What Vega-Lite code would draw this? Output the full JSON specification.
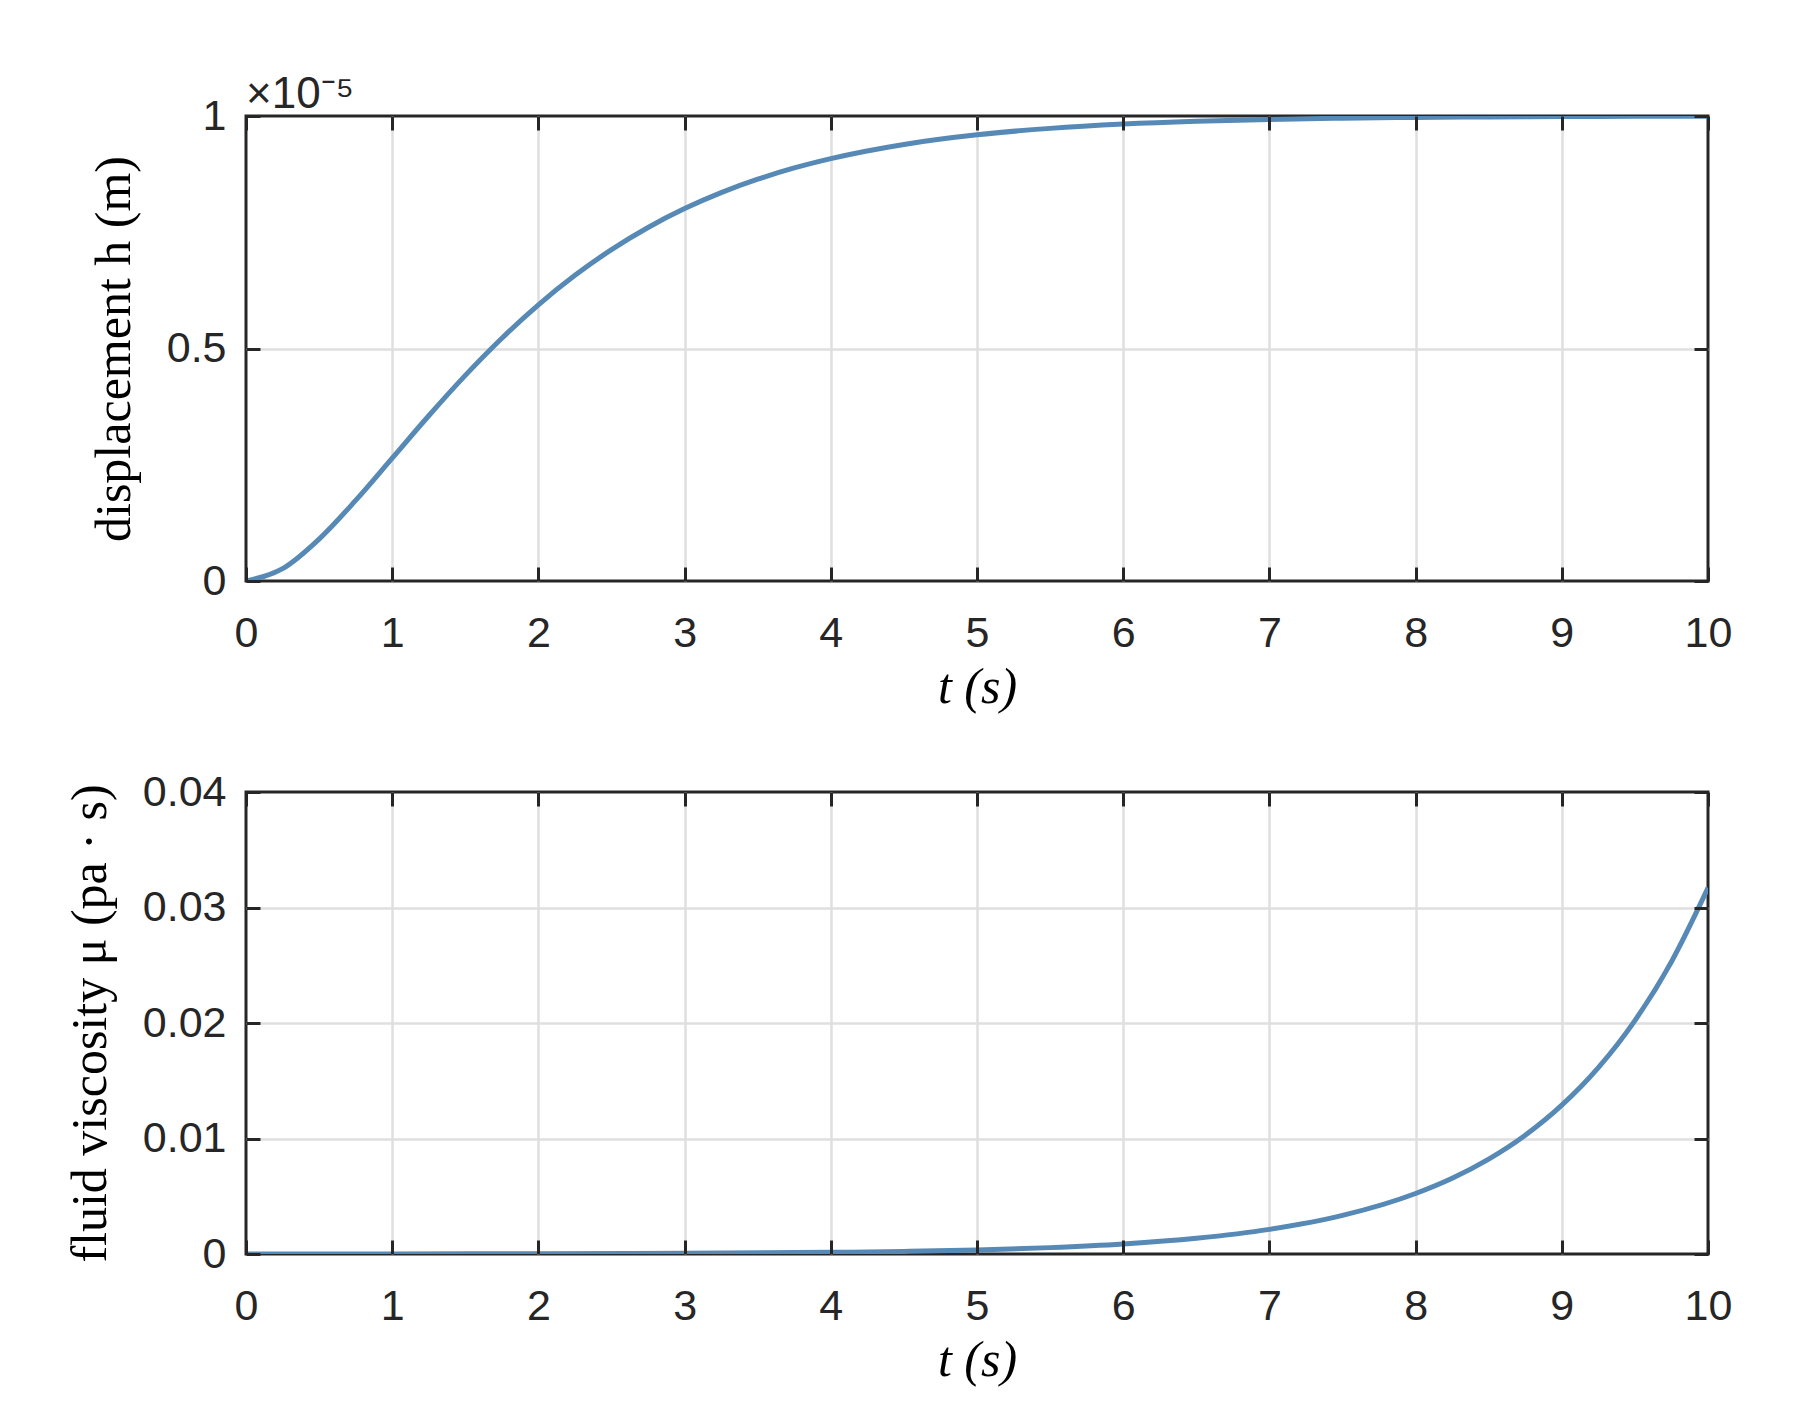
{
  "$schema": "https://vega.github.io/schema/vega-lite/v6.json",
  "background": "white",
  "padding": {"left": 63, "top": 71, "right": 90, "bottom": 20},
  "spacing": 55,
  "datasets": {
    "disp": [
      {"t": 0, "h": 0}, {"t": 0.25, "h": 0.0265}, {"t": 0.5, "h": 0.0902}, {"t": 0.75, "h": 0.1733},
      {"t": 1, "h": 0.2642}, {"t": 1.25, "h": 0.3554}, {"t": 1.5, "h": 0.4422}, {"t": 1.75, "h": 0.5221},
      {"t": 2, "h": 0.594}, {"t": 2.25, "h": 0.6574}, {"t": 2.5, "h": 0.7127}, {"t": 2.75, "h": 0.7603},
      {"t": 3, "h": 0.8009}, {"t": 3.25, "h": 0.8352}, {"t": 3.5, "h": 0.8641}, {"t": 3.75, "h": 0.8883},
      {"t": 4, "h": 0.9084}, {"t": 4.5, "h": 0.9389}, {"t": 5, "h": 0.9596}, {"t": 5.5, "h": 0.9734},
      {"t": 6, "h": 0.9826}, {"t": 6.5, "h": 0.9887}, {"t": 7, "h": 0.9927}, {"t": 7.5, "h": 0.9953},
      {"t": 8, "h": 0.997}, {"t": 8.5, "h": 0.9981}, {"t": 9, "h": 0.9988}, {"t": 9.5, "h": 0.9992},
      {"t": 10, "h": 0.9995}
    ],
    "visc": [
      {"t": 0, "mu": 0.0000039}, {"t": 1, "mu": 0.0000096}, {"t": 2, "mu": 0.0000236}, {"t": 3, "mu": 0.000058},
      {"t": 4, "mu": 0.000143}, {"t": 4.5, "mu": 0.000224}, {"t": 5, "mu": 0.000352}, {"t": 5.5, "mu": 0.000552},
      {"t": 6, "mu": 0.000866}, {"t": 6.5, "mu": 0.00136}, {"t": 7, "mu": 0.00213}, {"t": 7.5, "mu": 0.00334},
      {"t": 8, "mu": 0.00524}, {"t": 8.25, "mu": 0.00656}, {"t": 8.5, "mu": 0.00822}, {"t": 8.75, "mu": 0.01029},
      {"t": 9, "mu": 0.01289}, {"t": 9.25, "mu": 0.01614}, {"t": 9.5, "mu": 0.02021}, {"t": 9.75, "mu": 0.02531},
      {"t": 10, "mu": 0.0317}
    ]
  },
  "vconcat": [
    {
      "width": 1462,
      "height": 465,
      "title": {"text": "×10⁻⁵", "anchor": "start", "frame": "group", "fontSize": 44, "font": "Liberation Sans", "fontWeight": "normal", "color": "#262626", "offset": -22},
      "data": {"name": "disp"},
      "resolve": {"axis": {"x": "independent", "y": "independent"}},
      "layer": [
        {
          "mark": {"type": "line", "color": "#5689b5", "strokeWidth": 5, "interpolate": "monotone", "clip": true},
          "encoding": {
            "x": {"field": "t", "type": "quantitative", "scale": {"domain": [0, 10], "nice": false},
                  "axis": {"orient": "bottom", "values": [0,1,2,3,4,5,6,7,8,9,10], "title": "t (s)", "grid": false, "zindex": 1}},
            "y": {"field": "h", "type": "quantitative", "scale": {"domain": [0, 1], "nice": false},
                  "axis": {"orient": "left", "values": [0, 0.5, 1], "format": "~g", "title": "displacement h (m)", "titleFontStyle": "normal", "grid": false, "zindex": 1}}
          }
        },
        {
          "mark": {"type": "line", "opacity": 0},
          "encoding": {
            "x": {"field": "t", "type": "quantitative", "axis": {"orient": "top", "values": [0,1,2,3,4,5,6,7,8,9,10], "labels": false, "title": null, "grid": false, "zindex": 1}},
            "y": {"field": "h", "type": "quantitative", "axis": {"orient": "right", "values": [0, 0.5, 1], "labels": false, "title": null, "grid": false, "zindex": 1}}
          }
        },
        {
          "mark": {"type": "line", "opacity": 0},
          "encoding": {
            "x": {"field": "t", "type": "quantitative", "axis": {"orient": "top", "values": [1,2,3,4,5,6,7,8,9], "labels": false, "ticks": false, "title": null, "grid": true, "zindex": 0}},
            "y": {"field": "h", "type": "quantitative", "axis": {"orient": "right", "values": [0.5], "labels": false, "ticks": false, "title": null, "grid": true, "zindex": 0}}
          }
        }
      ]
    },
    {
      "width": 1462,
      "height": 462,
      "data": {"name": "visc"},
      "resolve": {"axis": {"x": "independent", "y": "independent"}},
      "layer": [
        {
          "mark": {"type": "line", "color": "#5689b5", "strokeWidth": 5, "interpolate": "monotone", "clip": true},
          "encoding": {
            "x": {"field": "t", "type": "quantitative", "scale": {"domain": [0, 10], "nice": false},
                  "axis": {"orient": "bottom", "values": [0,1,2,3,4,5,6,7,8,9,10], "title": "t (s)", "grid": false, "zindex": 1}},
            "y": {"field": "mu", "type": "quantitative", "scale": {"domain": [0, 0.04], "nice": false},
                  "axis": {"orient": "left", "values": [0, 0.01, 0.02, 0.03, 0.04], "format": "~g", "title": "fluid viscosity μ (pa · s)", "titleFontStyle": "normal", "grid": false, "zindex": 1}}
          }
        },
        {
          "mark": {"type": "line", "opacity": 0},
          "encoding": {
            "x": {"field": "t", "type": "quantitative", "axis": {"orient": "top", "values": [0,1,2,3,4,5,6,7,8,9,10], "labels": false, "title": null, "grid": false, "zindex": 1}},
            "y": {"field": "mu", "type": "quantitative", "axis": {"orient": "right", "values": [0, 0.01, 0.02, 0.03, 0.04], "labels": false, "title": null, "grid": false, "zindex": 1}}
          }
        },
        {
          "mark": {"type": "line", "opacity": 0},
          "encoding": {
            "x": {"field": "t", "type": "quantitative", "axis": {"orient": "top", "values": [1,2,3,4,5,6,7,8,9], "labels": false, "ticks": false, "title": null, "grid": true, "zindex": 0}},
            "y": {"field": "mu", "type": "quantitative", "axis": {"orient": "right", "values": [0.01, 0.02, 0.03], "labels": false, "ticks": false, "title": null, "grid": true, "zindex": 0}}
          }
        }
      ]
    }
  ],
  "config": {
    "view": {"stroke": "#262626", "strokeWidth": 3},
    "axis": {
      "domain": false,
      "labelFlush": false,
      "tickColor": "#262626",
      "tickWidth": 3,
      "tickSize": -14,
      "gridColor": "#dfdfdf",
      "gridWidth": 2.5,
      "labelFont": "Liberation Sans",
      "labelFontSize": 43,
      "labelColor": "#262626",
      "titleFont": "Liberation Serif",
      "titleFontSize": 50,
      "titleFontWeight": "normal",
      "titleColor": "#000000",
      "titleFontStyle": "italic"
    },
    "axisX": {"labelPadding": 45, "titlePadding": 7},
    "axisY": {"labelPadding": 34, "titlePadding": 27}
  }
}
